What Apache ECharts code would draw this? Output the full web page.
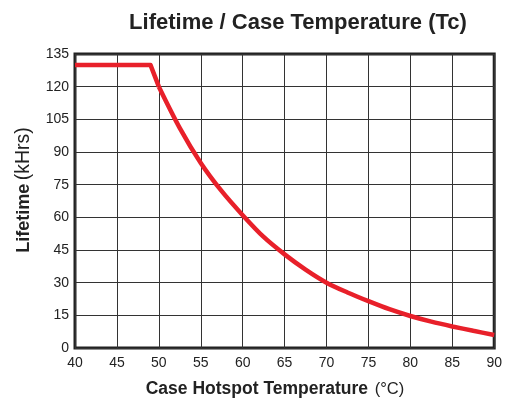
<!DOCTYPE html>
<html>
<head>
<meta charset="utf-8">
<script src="https://cdn.jsdelivr.net/npm/echarts@6/dist/echarts.min.js"></script>
<style>html,body{margin:0;padding:0;background:#fff}#c{width:505px;height:400px}</style>
</head>
<body>
<div id="c"></div>
<script>
// Flat plateau and the straight drop to the start of the curve
const plateauTemps = [40, 49, 50];
const plateauLife  = [130, 130, 120];
// Decay curve
const curveTemps = [50, 52.5, 55, 57.5, 60, 62.5, 65, 67.5, 70, 72.5, 75, 77.5, 80, 82.5, 85, 87.5, 90];
const curveLife  = [120, 101, 85, 72, 61, 51, 43, 36, 30, 25.5, 21.5, 17.8, 14.7, 12.1, 9.9, 7.9, 6];
const xTicks = [40, 45, 50, 55, 60, 65, 70, 75, 80, 85, 90];
const yTicks = [0, 15, 30, 45, 60, 75, 90, 105, 120, 135];

const font = 'Liberation Sans, Arial, sans-serif';
const lineColor = '#e8202a';
const chart = echarts.init(document.getElementById('c'));
chart.setOption({
  animation: false,
  title: {
    text: 'Lifetime / Case Temperature (Tc)',
    left: 293, top: 7, textAlign: 'center',
    textStyle: {fontFamily: font, fontSize: 22, fontWeight: 'bold', color: '#222'}
  },
  grid: {left: 75, right: 8, top: 54, bottom: 52, show: true, borderColor: '#222', borderWidth: 3, backgroundColor: 'transparent'},
  xAxis: {
    type: 'value', min: xTicks[0], max: xTicks[xTicks.length-1], interval: 5,
    axisLine: {show: false}, axisTick: {show: false},
    axisLabel: {fontFamily: font, fontSize: 14, color: '#222', margin: 8},
    splitLine: {show: true, lineStyle: {color: '#333', width: 1}}
  },
  yAxis: {
    type: 'value', min: yTicks[0], max: yTicks[yTicks.length-1], interval: 15,
    axisLine: {show: false}, axisTick: {show: false},
    axisLabel: {fontFamily: font, fontSize: 14, color: '#222', margin: 6},
    splitLine: {show: true, lineStyle: {color: '#333', width: 1}}
  },
  graphic: [
    {
      type: 'text', x: 275, y: 389,
      style: {
        text: '{b|Case Hotspot Temperature}  {n|(°C)}',
        align: 'center', verticalAlign: 'middle',
        rich: {
          b: {fontFamily: font, fontSize: 17.5, fontWeight: 'bold', fill: '#222'},
          n: {fontFamily: font, fontSize: 16.5, fill: '#222'}
        }
      }
    },
    {
      type: 'text', x: 24, y: 190, rotation: Math.PI / 2,
      style: {
        text: '{b|Lifetime} {n|(kHrs)}',
        align: 'center', verticalAlign: 'middle',
        rich: {
          b: {fontFamily: font, fontSize: 18, fontWeight: 'bold', fill: '#222'},
          n: {fontFamily: font, fontSize: 19.5, fill: '#222'}
        }
      }
    }
  ],
  series: [
    {
      type: 'line',
      data: plateauTemps.map((t, i) => [t, plateauLife[i]]),
      symbol: 'none',
      lineStyle: {color: lineColor, width: 4.5, join: 'round'},
      z: 5
    },
    {
      type: 'line',
      data: curveTemps.map((t, i) => [t, curveLife[i]]),
      smooth: 0.3,
      symbol: 'none',
      lineStyle: {color: lineColor, width: 4.5},
      z: 5
    }
  ]
});
</script>
</body>
</html>
